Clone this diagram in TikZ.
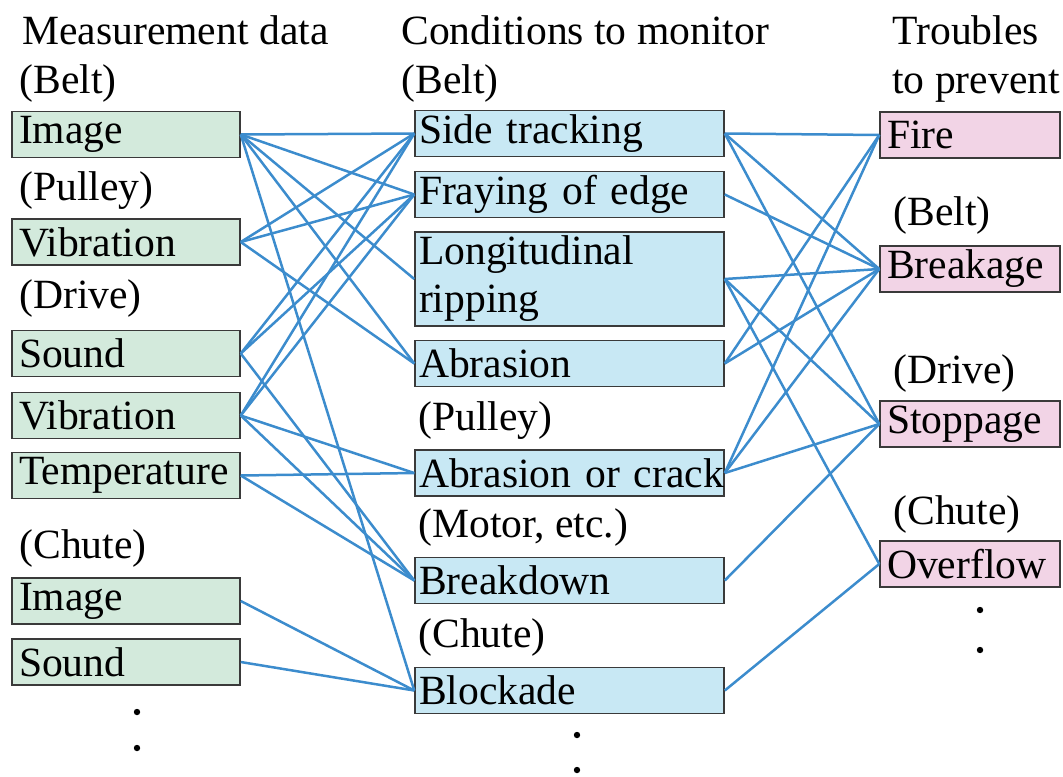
\documentclass[tikz,border=0pt]{standalone}
\usepackage{fontspec}
\setmainfont{Liberation Serif}
\definecolor{measgreen}{HTML}{D3EADC}
\definecolor{condblue}{HTML}{C8E8F4}
\definecolor{troublepink}{HTML}{F2D4E6}
\definecolor{linkblue}{HTML}{3C8CCD}
\definecolor{boxgray}{HTML}{3A3A3A}
\begin{document}
\begin{tikzpicture}[x=0.5pt,y=-0.5pt,
    font=\fontsize{20.8}{24}\selectfont,
    box/.style={draw=boxgray,line width=0.75pt,rectangle,inner xsep=3.5pt,inner ysep=0pt,
                minimum height=23pt,align=left},
    measbox/.style={box,fill=measgreen,text width=107pt},
    condbox/.style={box,fill=condblue,inner xsep=2pt,text width=150.5pt},
    troublebox/.style={box,fill=troublepink,text width=83pt},
    lbl/.style={anchor=base west,inner sep=0pt},
    link/.style={draw=linkblue,line width=1.25pt}]
    \useasboundingbox (0,0) rectangle (1063,776);
    % Headings
    \node[lbl] (hmeas) at (22,44) {Measurement data};
    \node[lbl] (hcond) at (401,44) {Conditions to monitor};
    \node[lbl] (htrouble) at (892,44) {Troubles};
    \node[lbl] (htrouble2) at (892,93) {to prevent};
    % Measurement data
    \node[lbl] (mbelt) at (19,93) {(Belt)};
    \node[measbox] (mimage) at (126,134.5) {Image};
    \node[lbl] (mpulley) at (19,200) {(Pulley)};
    \node[measbox] (mvib) at (126,242) {Vibration};
    \node[lbl] (mdrive) at (19,308) {(Drive)};
    \node[measbox] (msound) at (126,353.5) {Sound};
    \node[measbox] (mvibd) at (126,415.5) {Vibration};
    \node[measbox] (mtemp) at (126,475.5) {Temperature};
    \node[lbl] (mchute) at (19,558) {(Chute)};
    \node[measbox] (mimagec) at (126,601) {Image};
    \node[measbox] (msoundc) at (126,662) {Sound};
    % Conditions to monitor
    \node[lbl] (cbelt) at (401,93) {(Belt)};
    \node[condbox] (cside) at (569.5,133.5) {Side tracking};
    \node[condbox] (cfray) at (569.5,194.5) {Fraying of edge};
    \node[condbox,minimum height=47pt] (cripp) at (569.5,279) {Longitudinal\\ripping};
    \node[condbox] (cabr) at (569.5,363.5) {Abrasion};
    \node[lbl] (cpulley) at (418,430) {(Pulley)};
    \node[condbox] (ccrack) at (569.5,473) {\mbox{Abrasion or crack}};
    \node[lbl] (cmotor) at (418,537) {(Motor, etc.)};
    \node[condbox] (cbreak) at (569.5,580.5) {Breakdown};
    \node[lbl] (cchute) at (418,647) {(Chute)};
    \node[condbox] (cblock) at (569.5,690.5) {Blockade};
    % Troubles to prevent
    \node[troublebox] (tfire) at (970,135) {Fire};
    \node[lbl] (tbelt) at (893,225) {(Belt)};
    \node[troublebox] (tbreak) at (970,269) {Breakage};
    \node[lbl] (tdrive) at (893,383) {(Drive)};
    \node[troublebox] (tstop) at (970,424) {Stoppage};
    \node[lbl] (tchute) at (893,524) {(Chute)};
    \node[troublebox] (tover) at (970,564) {Overflow};
    % Dots
    \foreach \px/\py in {137/712,137/748,577/735,577/770,980/610,980/650}
        \fill (\px,\py) circle (1.6pt);
    % Links: measurement -> condition
    \foreach \a/\b in {mimage/cside,mimage/cfray,mimage/cripp,mimage/cabr,mimage/cblock,
                       mvib/cside,mvib/cfray,mvib/cabr,
                       msound/cside,msound/cfray,msound/cbreak,
                       mvibd/cside,mvibd/cfray,mvibd/ccrack,mvibd/cbreak,
                       mtemp/ccrack,mtemp/cbreak,
                       mimagec/cblock,msoundc/cblock}
        \draw[link] (\a.east) -- (\b.west);
    % Links: condition -> trouble
    \foreach \a/\b in {cside/tfire,cside/tbreak,cside/tstop,
                       cfray/tbreak,
                       cripp/tbreak,cripp/tstop,cripp/tover,
                       cabr/tfire,cabr/tbreak,
                       ccrack/tfire,ccrack/tbreak,ccrack/tstop,
                       cbreak/tstop,cblock/tover}
        \draw[link] (\a.east) -- (\b.west);
\end{tikzpicture}
\end{document}
